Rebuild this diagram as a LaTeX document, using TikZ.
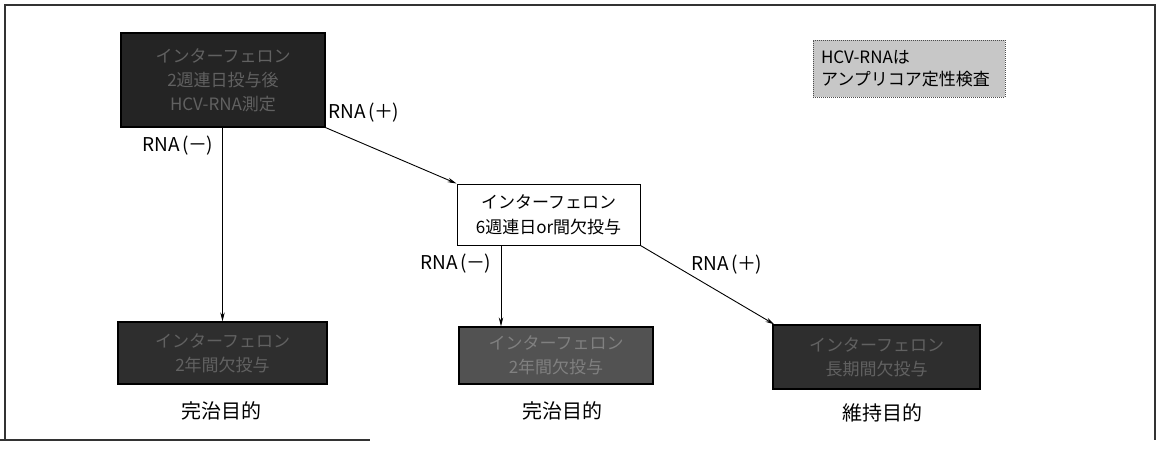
\documentclass[tikz,border=0pt]{standalone}
\usepackage{fontspec}
\setmainfont{Noto Sans CJK JP}
\usetikzlibrary{arrows.meta}
\tikzset{
  darkbox/.style={draw=black, line width=1.2pt, fill=black!82, text=black!62, align=center, inner sep=0pt, font=\fontsize{17}{24}\selectfont},
  midbox/.style={draw=black, line width=1pt, fill=white, align=center, inner sep=0pt, font=\fontsize{17}{25}\selectfont},
  legendbox/.style={draw=black!70, densely dotted, line width=1pt, fill=black!22, align=left, inner sep=0pt, font=\fontsize{17}{22}\selectfont},
  lbl/.style={font=\fontsize{19}{20}\selectfont, inner sep=0pt},
  goal/.style={font=\fontsize{20}{20}\selectfont, inner sep=0pt},
  arr/.style={line width=0.9pt, -{Stealth[length=9pt,width=4.5pt]}},
  frame/.style={line width=1.2pt, black!80}
}
\newcommand{\rnaminus}{RNA\,(\kern-1pt－\kern-1pt)}
\newcommand{\rnaplus}{RNA\,(\kern-1pt＋\kern-1pt)}
\begin{document}
\begin{tikzpicture}[x=1pt,y=-1pt]
\useasboundingbox (0,0) rectangle (1160,448);
% frame
\coordinate (f1) at (5,440);
\coordinate (f2) at (5,5);
\coordinate (f3) at (1155,5);
\coordinate (f4) at (1155,440);
\coordinate (f5) at (370,440);
\coordinate (f6) at (0,440);
\draw[frame] (f1) -- (f2) -- (f3) -- (f4);
\draw[frame] (f6) -- (f5);
% boxes
\node[darkbox, fill=black!86, minimum width=204pt, minimum height=94pt] (top) at (223,80) {インターフェロン\\2週連日投与後\\HCV-RNA測定};
\node[legendbox, minimum width=192pt, minimum height=57pt, text width=176pt] (leg) at (909,68.5) {HCV-RNAは\\アンプリコア定性検査};
\node[midbox, minimum width=183pt, minimum height=61pt] (mid) at (548.5,214.5) {インターフェロン\\6週連日or間欠投与};
\node[darkbox, minimum width=209pt, minimum height=62pt] (bl) at (222.5,353) {インターフェロン\\2年間欠投与};
\node[darkbox, fill=black!68, text=black!50, minimum width=194pt, minimum height=57pt] (bm) at (556,355.5) {インターフェロン\\2年間欠投与};
\node[darkbox, minimum width=207pt, minimum height=64pt] (br) at (876.5,357) {インターフェロン\\長期間欠投与};
% goals
\node[goal] (g1) at (221,411) {完治目的};
\node[goal] (g2) at (562,411) {完治目的};
\node[goal] (g3) at (882,413) {維持目的};
% connectors
\coordinate (m1) at ([xshift=-47.5pt]mid.south);
\draw[arr] (top.south -| bl.north) -- (bl.north);
\draw[arr] (top.south east) -- (mid.north west);
\draw[arr] (m1) -- (m1 |- bm.north);
\draw[arr] (mid.south east) -- ([xshift=2pt]br.north west);
% labels
\node[lbl, anchor=east] (l1) at (213,146) {\rnaminus};
\node[lbl, anchor=west] (l2) at (328,113) {\rnaplus};
\node[lbl, anchor=east] (l3) at (491,264) {\rnaminus};
\node[lbl, anchor=west] (l4) at (691,265) {\rnaplus};
\end{tikzpicture}
\end{document}
